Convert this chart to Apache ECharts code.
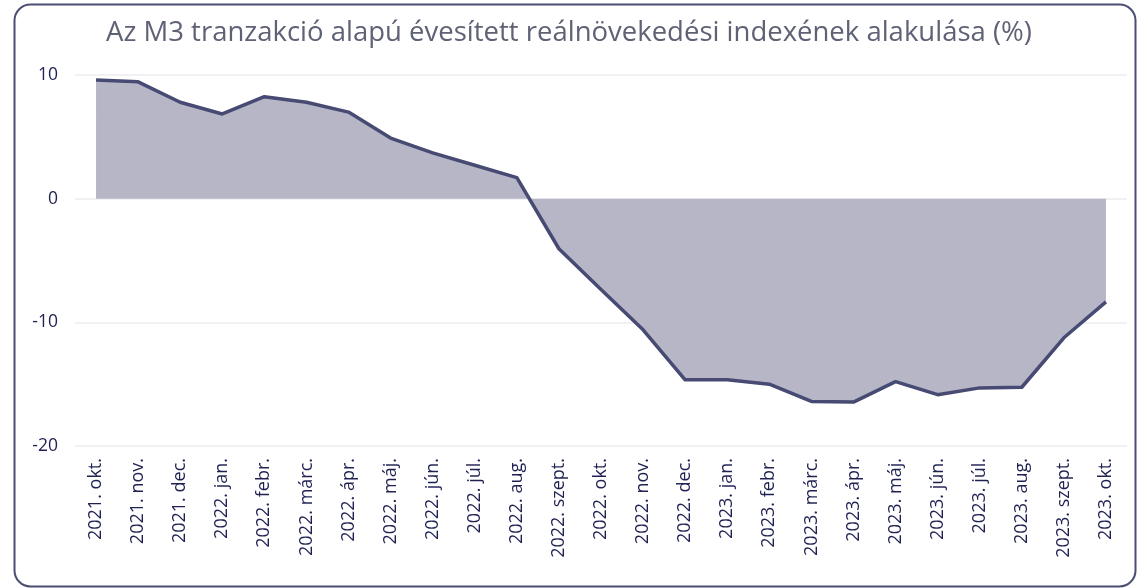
<!DOCTYPE html>
<html>
<head>
<meta charset="utf-8">
<script src="https://cdn.jsdelivr.net/npm/echarts@6/dist/echarts.min.js"></script>
<style>
  html, body { margin: 0; padding: 0; background: #ffffff; }
  #chart { width: 1138px; height: 588px; }
</style>
</head>
<body>
<div id="chart"></div>
<script>
// Months on the category axis
const months = [
  '2021. okt.', '2021. nov.', '2021. dec.',
  '2022. jan.', '2022. febr.', '2022. márc.', '2022. ápr.', '2022. máj.', '2022. jún.',
  '2022. júl.', '2022. aug.', '2022. szept.', '2022. okt.', '2022. nov.', '2022. dec.',
  '2023. jan.', '2023. febr.', '2023. márc.', '2023. ápr.', '2023. máj.', '2023. jún.',
  '2023. júl.', '2023. aug.', '2023. szept.', '2023. okt.'
];

// Annualised real growth of M3 (transaction based), %
const growth = [
  9.6, 9.45, 7.8,
  6.85, 8.25, 7.8, 7.0, 4.9, 3.7,
  2.7, 1.7, -4.05, -7.35, -10.6, -14.65,
  -14.65, -15.0, -16.4, -16.45, -14.8, -15.85,
  -15.3, -15.25, -11.25, -8.35
];

// Value axis ticks
const yTicks = [-20, -10, 0, 10];

const titleText = 'Az M3 tranzakció alapú évesített reálnövekedési indexének alakulása (%)';

const chart = echarts.init(document.getElementById('chart'), null, { renderer: 'canvas' });

chart.setOption({
  animation: false,
  backgroundColor: '#ffffff',
  textStyle: { fontFamily: '"Open Sans", "Noto Sans", sans-serif' },
  graphic: [{
    type: 'rect',
    left: 12, top: 2,
    shape: { width: 1121, height: 582, r: 16 },
    style: { fill: 'none', stroke: '#4b4d73', lineWidth: 2 },
    silent: true,
    z: -1
  }],
  title: {
    text: titleText,
    left: 'center',
    top: 14,
    textStyle: {
      color: '#5f6275',
      fontSize: 27.5,
      fontWeight: 'normal',
      fontFamily: '"Open Sans", "Noto Sans", sans-serif'
    }
  },
  grid: { left: 75, right: 11, top: 75, bottom: 142, containLabel: false },
  xAxis: {
    type: 'category',
    data: months,
    boundaryGap: true,
    axisLine: { show: false },
    axisTick: { show: false },
    axisLabel: {
      rotate: 90,
      margin: 12,
      color: '#1f2152',
      fontSize: 18,
      interval: 0,
      fontFamily: '"Open Sans", "Noto Sans", sans-serif'
    },
    splitLine: { show: false }
  },
  yAxis: {
    type: 'value',
    min: yTicks[0],
    max: yTicks[yTicks.length - 1],
    interval: 10,
    axisLine: { show: false },
    axisTick: { show: false },
    axisLabel: {
      color: '#1f2152',
      fontSize: 17.5,
      margin: 17,
      fontFamily: '"Open Sans", "Noto Sans", sans-serif'
    },
    splitLine: { lineStyle: { color: '#ececef', width: 1.5 } }
  },
  series: [{
    type: 'line',
    data: growth,
    symbol: 'none',
    lineStyle: { color: '#474a72', width: 3.5, join: 'round' },
    areaStyle: { color: '#b6b6c6', opacity: 1, origin: 0 },
    z: 3
  }]
});
</script>
</body>
</html>
